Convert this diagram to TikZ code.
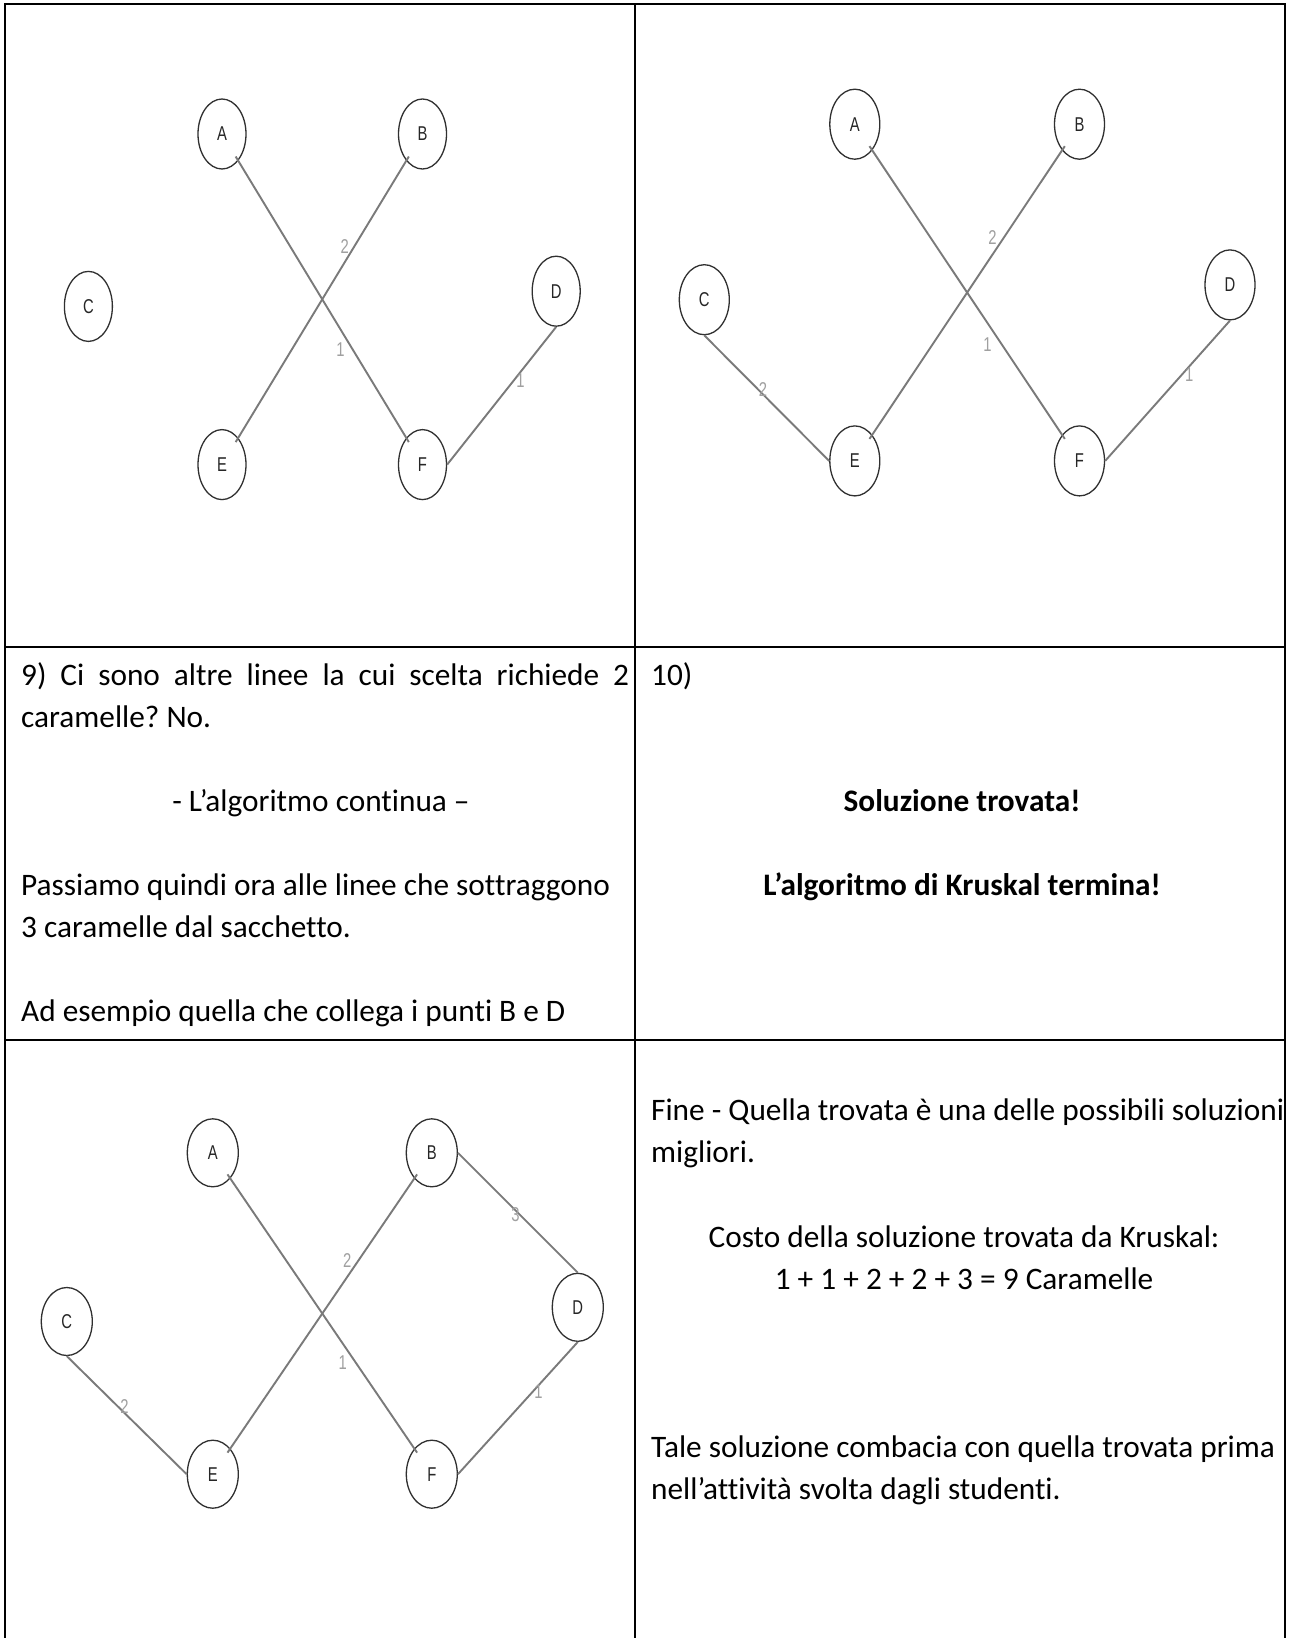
\documentclass[tikz,border=0pt]{standalone}
\usepackage{fontspec}
\setmainfont{Carlito}[Ligatures=NoCommon]
\newfontfamily\gfont[FakeStretch=0.74]{Liberation Sans}
\usetikzlibrary{shapes.geometric}
\definecolor{edgegray}{HTML}{7A7A7A}
\definecolor{labgray}{HTML}{A0A0A0}
\definecolor{nodeline}{HTML}{303030}
\tikzset{
  tline/.style={line width=2.7pt, black},
  vtxT/.style={ellipse, draw=nodeline, line width=1.3pt, inner sep=0pt,
    minimum width=48pt, minimum height=70pt, text=black!85,
    font=\gfont\fontsize{20}{20}\selectfont},
  vtxR/.style={vtxT, minimum width=50pt, minimum height=70pt},
  vtxB/.style={vtxT, minimum width=51pt, minimum height=68pt},
  gedge/.style={draw=edgegray, line width=1.9pt},
  diag/.style={shorten <=-5pt, shorten >=-5pt},
  elab/.style={inner sep=0pt, text=labgray, font=\gfont\fontsize{20}{20}\selectfont},
  txt/.style={anchor=base west, inner sep=0pt, font=\fontsize{31.3}{42}\selectfont},
  ctxt/.style={anchor=base, inner sep=0pt, font=\fontsize{31.3}{42}\selectfont},
  btxt/.style={anchor=base, inner sep=0pt, font=\bfseries\fontsize{31.3}{42}\selectfont}
}
\frenchspacing
\begin{document}
\begin{tikzpicture}[x=1pt, y=-1pt]
\useasboundingbox (0,0) rectangle (1290,1638);
\fill[white] (0,0) rectangle (1290,1638);

% table
\draw[tline] (5,1638) -- (5,4) -- (1285,4) -- (1285,1638);
\draw[tline] (635,4) -- (635,1638);
\draw[tline] (5,647) -- (1285,647);
\draw[tline] (5,1040) -- (1285,1040);

% graph top-left
\node[vtxT] (A1) at (222,134) {A};
\node[vtxT] (B1) at (422.5,134) {B};
\node[vtxT] (C1) at (88.4,306.4) {C};
\node[vtxT] (D1) at (556.2,291.2) {D};
\node[vtxT] (E1) at (222,464.6) {E};
\node[vtxT] (F1) at (422.5,464.6) {F};
\draw[gedge, diag] (A1) -- (F1);
\draw[gedge, diag] (B1) -- (E1);
\draw[gedge] (D1.south) -- (F1.east);
\node[elab] (l1a) at (344.7,246.2) {2};
\node[elab] (l1b) at (340.6,349.3) {1};
\node[elab] (l1c) at (520.4,380.9) {1};

% graph top-right
\node[vtxR] (A2) at (854.8,124.2) {A};
\node[vtxR] (B2) at (1079.5,124.2) {B};
\node[vtxR] (C2) at (704.3,299.7) {C};
\node[vtxR] (D2) at (1230,284.9) {D};
\node[vtxR] (E2) at (854.8,460.9) {E};
\node[vtxR] (F2) at (1079.5,460.9) {F};
\draw[gedge, diag] (A2) -- (F2);
\draw[gedge, diag] (B2) -- (E2);
\draw[gedge] (C2.south) -- (E2.west);
\draw[gedge] (D2.south) -- (F2.east);
\node[elab] (l2a) at (992.4,237.8) {2};
\node[elab] (l2b) at (987.4,345.1) {1};
\node[elab] (l2c) at (1189.3,374.6) {1};
\node[elab] (l2d) at (763.1,389.3) {2};

% graph bottom-left
\node[vtxB] (A3) at (212.8,1152.8) {A};
\node[vtxB] (B3) at (431.8,1152.8) {B};
\node[vtxB] (C3) at (66.8,1321.5) {C};
\node[vtxB] (D3) at (577.8,1307.3) {D};
\node[vtxB] (E3) at (212.8,1474.2) {E};
\node[vtxB] (F3) at (431.8,1474.2) {F};
\draw[gedge, diag] (A3) -- (F3);
\draw[gedge, diag] (B3) -- (E3);
\draw[gedge] (C3.south) -- (E3.west);
\draw[gedge] (B3.east) -- (D3.north);
\draw[gedge] (D3.south) -- (F3.east);
\node[elab] (l3a) at (515.5,1214.7) {3};
\node[elab] (l3b) at (347.2,1260.5) {2};
\node[elab] (l3c) at (342.8,1362.9) {1};
\node[elab] (l3d) at (538.6,1391.8) {1};
\node[elab] (l3e) at (124.6,1406.5) {2};

% middle-left text
\node[txt] (m1) at (21,685) {\makebox[608pt][s]{9) Ci sono altre linee la cui scelta richiede 2}};
\node[txt] (m2) at (21,727) {caramelle? No.};
\node[ctxt] (m3) at (321,811) {- L’algoritmo continua –};
\node[txt] (m4) at (21,895) {Passiamo quindi ora alle linee che sottraggono};
\node[txt] (m5) at (21,937) {3 caramelle dal sacchetto.};
\node[txt] (m6) at (21,1021) {Ad esempio quella che collega i punti B e D};

% middle-right text
\node[txt] (r1) at (651,685) {10)};
\node[btxt] (r2) at (962,811) {Soluzione trovata!};
\node[btxt] (r3) at (962,895) {L’algoritmo di Kruskal termina!};

% bottom-right text
\node[txt] (b1) at (651,1120) {Fine - Quella trovata è una delle possibili soluzioni};
\node[txt] (b2) at (651,1162) {migliori.};
\node[ctxt] (b3) at (964,1247) {Costo della soluzione trovata da Kruskal:};
\node[ctxt] (b4) at (964,1289) {1 + 1 + 2 + 2 + 3 = 9 Caramelle};
\node[txt] (b5) at (651,1457) {Tale soluzione combacia con quella trovata prima};
\node[txt] (b6) at (651,1499) {nell’attività svolta dagli studenti.};
\end{tikzpicture}
\end{document}
